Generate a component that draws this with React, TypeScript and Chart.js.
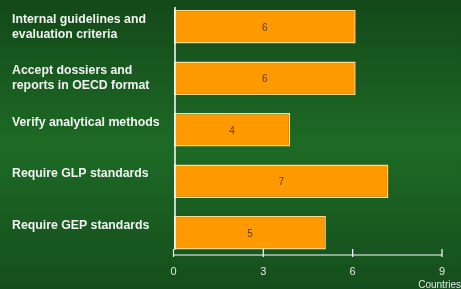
import React, { useEffect, useRef } from "react";
import { Chart, registerables } from "chart.js";

Chart.register(...registerables);

const categories: string[][] = [
  ["Internal guidelines and", "evaluation criteria"],
  ["Accept dossiers and", "reports in OECD format"],
  ["Verify analytical methods", ""],
  ["Require GLP standards", ""],
  ["Require GEP standards", ""],
];
const values: number[] = [6.1, 6.1, 3.9, 7.2, 5.1];
const valueLabels: string[] = ["6", "6", "4", "7", "5"];
const xTicks: number[] = [0, 3, 6, 9];
const axisTitle = "Countries";

const FONT = "'Liberation Sans', Arial, Helvetica, sans-serif";

const bgPlugin = {
  id: "bg",
  beforeDraw(chart: any) {
    const { ctx, width, height } = chart;
    const g = ctx.createLinearGradient(0, 0, 0, height);
    g.addColorStop(0, "#134819");
    g.addColorStop(0.5, "#1d6a25");
    g.addColorStop(1, "#154e1c");
    ctx.save();
    ctx.fillStyle = g;
    ctx.fillRect(0, 0, width, height);
    ctx.restore();
  },
};

const axesPlugin = {
  id: "customAxes",
  afterDatasetsDraw(chart: any) {
    const { ctx, chartArea } = chart;
    const x = chart.scales.x;
    const meta = chart.getDatasetMeta(0);
    const firstBar = meta.data[0] as any;
    const lastBar = meta.data[meta.data.length - 1] as any;
    ctx.save();
    // value labels
    ctx.fillStyle = "#5a3a0c";
    ctx.font = `10px ${FONT}`;
    ctx.textAlign = "center";
    ctx.textBaseline = "middle";
    meta.data.forEach((bar: any, i: number) => {
      const cx = (bar.base + bar.x) / 2;
      ctx.fillText(valueLabels[i], cx, bar.y + 1);
    });
    // vertical axis line
    const x0 = x.getPixelForValue(0);
    ctx.strokeStyle = "#ffffff";
    ctx.lineWidth = 1.5;
    ctx.beginPath();
    ctx.moveTo(x0 + 1, firstBar.y - firstBar.height / 2 - 3);
    ctx.lineTo(x0 + 1, lastBar.y + lastBar.height / 2);
    ctx.stroke();
    // horizontal axis
    const ay = chartArea.bottom - 3.5;
    ctx.lineWidth = 1.2;
    ctx.beginPath();
    ctx.moveTo(x.getPixelForValue(xTicks[0]) - 0.5, ay);
    ctx.lineTo(x.getPixelForValue(xTicks[xTicks.length - 1]), ay);
    ctx.stroke();
    ctx.fillStyle = "#e6e6e6";
    ctx.font = `11px ${FONT}`;
    ctx.textAlign = "center";
    ctx.textBaseline = "middle";
    xTicks.forEach((t, i) => {
      const px = x.getPixelForValue(t) - (i === 0 ? 0.5 : 0);
      ctx.beginPath();
      ctx.moveTo(px, ay - 6);
      ctx.lineTo(px, ay + 2);
      ctx.stroke();
      ctx.fillText(String(t), px, ay + 17);
    });
    ctx.font = `10px ${FONT}`;
    ctx.textAlign = "right";
    ctx.textBaseline = "alphabetic";
    ctx.fillText(axisTitle, chart.width, chart.height - 1);
    ctx.restore();
  },
};

export default function App() {
  const ref = useRef<HTMLCanvasElement | null>(null);
  useEffect(() => {
    document.body.style.margin = "0";
    const canvas = ref.current!;
    const chart = new Chart(canvas, {
      type: "bar",
      data: {
        labels: categories,
        datasets: [
          {
            data: values,
            backgroundColor: "#ff9900",
            borderColor: "#ffd98f",
            borderWidth: 1.5,
            borderSkipped: false,
            barPercentage: 0.65,
            categoryPercentage: 1,
          },
        ],
      },
      options: {
        indexAxis: "y",
        animation: false,
        responsive: false,
        maintainAspectRatio: false,
        layout: { padding: { left: 12, right: 19, top: 1, bottom: 30.5 } },
        plugins: { legend: { display: false }, tooltip: { enabled: false } },
        scales: {
          x: { display: false, min: 0, max: 9 },
          y: {
            grid: { display: false },
            border: { display: false },
            afterFit(scale: any) {
              scale.width = 162;
              scale.paddingTop = 0;
              scale.paddingBottom = 0;
            },
            ticks: {
              crossAlign: "far",
              color: "#f2f2f2",
              font: { family: FONT, size: 12.3, weight: "bold", lineHeight: 1.22 },
            },
          },
        },
      },
      plugins: [bgPlugin, axesPlugin],
    });
    return () => chart.destroy();
  }, []);
  return <canvas ref={ref} width={461} height={289} style={{ display: "block" }} />;
}
